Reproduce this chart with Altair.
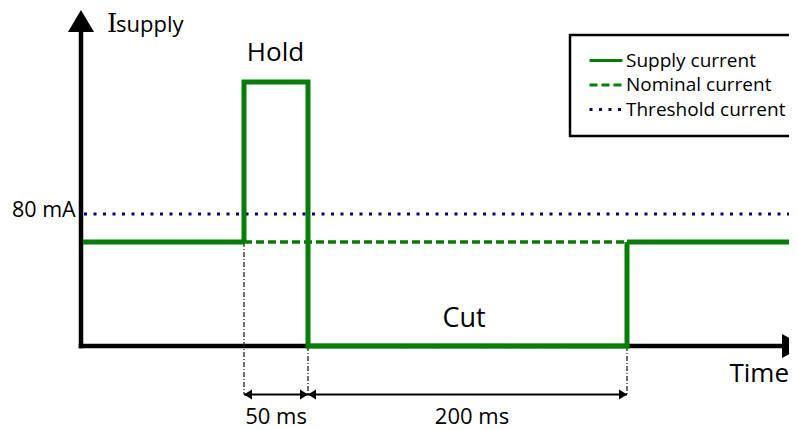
import altair as alt
import pandas as pd

# ---------------- data (schematic time units, current in mA) ----------------
SUPPLY_T = [2, 163, 163, 227, 227, 546, 546, 720]
SUPPLY_I = [63, 63, 160, 160, 0, 0, 63, 63]
NOMINAL_T = [163, 720]
NOMINAL_I = [63, 63]
THRESHOLD_T = [3, 720]
THRESHOLD_I = [80, 80]

SERIES = ["Supply current", "Nominal current", "Threshold current"]
COLORS = ["#008000", "#008000", "#000080"]
DASHES = [[1, 0], [8, 4], [3, 6.5]]

EVENT_T = [163, 227, 546]      # hold start, hold end / cut start, cut end
EVENT_TOP = [63, 0, 0]
DIM_LEVEL = -29.4
DIM_START = [163, 227]
DIM_END = [227, 546]
DIM_LABELS = ["50 ms", "200 ms"]
DIM_LABEL_T = [195, 391]
DIM_LABEL_LEVEL = -47.3

AXIS_T_END = 705
AXIS_I_END = 192
ARROW_T = 712
ARROW_I = 197

THRESHOLD_LABEL = "80 mA"

# ---------------- layout ----------------
W, H = 781, 422
K = 1.65   # px per mA
Y0 = 338   # px of 0 mA
X0 = 73    # px of t = 0

xs = alt.Scale(domain=[-X0, W - X0], range=[0, W], nice=False, zero=False)
ys = alt.Scale(domain=[(Y0 - H) / K, Y0 / K], nice=False, zero=False)

def X(f="t"):
    return alt.X(f"{f}:Q", scale=xs, axis=None)

def Y(f="i"):
    return alt.Y(f"{f}:Q", scale=ys, axis=None)

leg = alt.Legend(
    title=None, orient="none", legendX=562, legendY=27, padding=16,
    fillColor="white", strokeColor="black", symbolType="M -2.75 0 L 2.75 0",
    symbolSize=144, symbolStrokeWidth=3, symbolOffset=10.5, labelFont="Open Sans",
    labelFontSize=19, labelColor="black", labelOffset=10.5, rowPadding=4.5,
    labelLimit=400,
)
color = alt.Color("series:N", scale=alt.Scale(domain=SERIES, range=COLORS), legend=leg)
dash = alt.StrokeDash("series:N", scale=alt.Scale(domain=SERIES, range=DASHES), legend=leg)

supply_df = pd.DataFrame({"t": SUPPLY_T, "i": SUPPLY_I, "k": range(len(SUPPLY_T)),
                          "series": SERIES[0]})
nominal_df = pd.DataFrame({"t": NOMINAL_T, "i": NOMINAL_I, "series": SERIES[1]})
thresh_df = pd.DataFrame({"t": THRESHOLD_T, "i": THRESHOLD_I, "series": SERIES[2]})

# axes
axes_df = pd.DataFrame({"t": [0, 0], "t2": [0, AXIS_T_END], "i": [0, 0], "i2": [AXIS_I_END, 0]})
axes = alt.Chart(axes_df).mark_rule(strokeWidth=4.5, color="black", strokeCap="square").encode(
    x=X(), x2="t2:Q", y=Y(), y2="i2:Q")

UP = "M -1 0.846 L 0 -0.846 L 1 0.846 Z"
RIGHT = "M -0.917 -1 L 0.917 0 L -0.917 1 Z"
up_arrow = alt.Chart(pd.DataFrame({"t": [0], "i": [ARROW_I]})).mark_point(
    shape=UP, size=676, filled=True, color="black", opacity=1, strokeWidth=0).encode(x=X(), y=Y())
right_arrow = alt.Chart(pd.DataFrame({"t": [ARROW_T], "i": [0]})).mark_point(
    shape=RIGHT, size=576, filled=True, color="black", opacity=1, strokeWidth=0).encode(x=X(), y=Y())

# event guide lines
ev_df = pd.DataFrame({"t": EVENT_T, "i": EVENT_TOP, "i2": [DIM_LEVEL] * 3})
events = alt.Chart(ev_df).mark_rule(strokeWidth=1.3, color="#222", strokeDash=[5, 2, 1, 2]).encode(
    x=X(), y=Y(), y2="i2:Q")

# dimension lines
dim_df = pd.DataFrame({"t": DIM_START, "t2": DIM_END, "i": [DIM_LEVEL] * 2, "label": DIM_LABELS,
                       "lt": DIM_LABEL_T, "li": [DIM_LABEL_LEVEL] * 2})
dims = alt.Chart(dim_df).mark_rule(strokeWidth=1.8, color="black").encode(x=X(), x2="t2:Q", y=Y())
HEAD_R = "M 0 0 L -2 -1.25 L -2 1.25 Z"
HEAD_L = "M 0 0 L 2 -1.25 L 2 1.25 Z"
heads_r = alt.Chart(dim_df).mark_point(shape=HEAD_R, size=64, filled=True, color="black",
                                       opacity=1, strokeWidth=0).encode(x=X("t2"), y=Y())
heads_l = alt.Chart(dim_df).mark_point(shape=HEAD_L, size=64, filled=True, color="black",
                                       opacity=1, strokeWidth=0).encode(x=X(), y=Y())
dim_text = alt.Chart(dim_df).mark_text(font="Open Sans", fontSize=22, color="black",
                                       baseline="alphabetic", align="center").encode(
    x=X("lt"), y=Y("li"), text="label:N")

# lines
thr = alt.Chart(thresh_df).mark_line(strokeWidth=3, strokeCap="butt").encode(
    x=X(), y=Y(), color=color, strokeDash=dash)
nom = alt.Chart(nominal_df).mark_line(strokeWidth=3.5, strokeCap="butt").encode(
    x=X(), y=Y(), color=color, strokeDash=dash)
sup = alt.Chart(supply_df).mark_line(strokeWidth=5, strokeCap="butt", strokeJoin="miter").encode(
    x=X(), y=Y(), color=color, strokeDash=dash, order="k:Q")

# annotations
ann_df = pd.DataFrame({
    "text": ["Hold", "Cut"],
    "t": [194.5, 383],
    "i": [172.7, 11.5],
    "fs": [26, 27],
})
ann = alt.Chart(ann_df).mark_text(font="Open Sans", color="black",
                                  baseline="alphabetic", align="center").encode(
    x=X(), y=Y(), text="text:N", size=alt.Size("fs:Q", scale=None, legend=None))
time_lbl = alt.Chart(pd.DataFrame({"t": [708], "i": [-21.8], "text": ["Time"]})).mark_text(
    font="Open Sans", fontSize=26, color="black", baseline="alphabetic", align="right").encode(
    x=X(), y=Y(), text="text:N")

thr_lbl = alt.Chart(pd.DataFrame({"t": [-5.3], "i": [81.6], "text": [THRESHOLD_LABEL]})).mark_text(
    font="Open Sans", fontSize=21.5, color="black", baseline="middle", align="right").encode(
    x=X(), y=Y(), text="text:N")

i_lbl = alt.Chart(pd.DataFrame({"t": [26], "i": [190.3], "text": ["I"]})).mark_text(
    font="DejaVu Serif", fontSize=26, color="black", baseline="alphabetic", align="left").encode(
    x=X(), y=Y(), text="text:N")
s_lbl = alt.Chart(pd.DataFrame({"t": [35], "i": [190.3], "text": ["supply"]})).mark_text(
    font="Open Sans", fontSize=22, color="black", baseline="alphabetic", align="left").encode(
    x=X(), y=Y(), text="text:N")

chart = alt.layer(
    axes, events, dims, heads_r, heads_l, thr, nom, sup, up_arrow, right_arrow,
    ann, time_lbl, thr_lbl, i_lbl, s_lbl, dim_text,
).properties(
    width=W, height=H, autosize=alt.AutoSizeParams(type="none"), padding=0, background="white"
).configure_view(stroke=None).configure_legend(strokeWidth=2.5)

chart.save("out.html", embed_options={"renderer": "svg", "actions": False})
